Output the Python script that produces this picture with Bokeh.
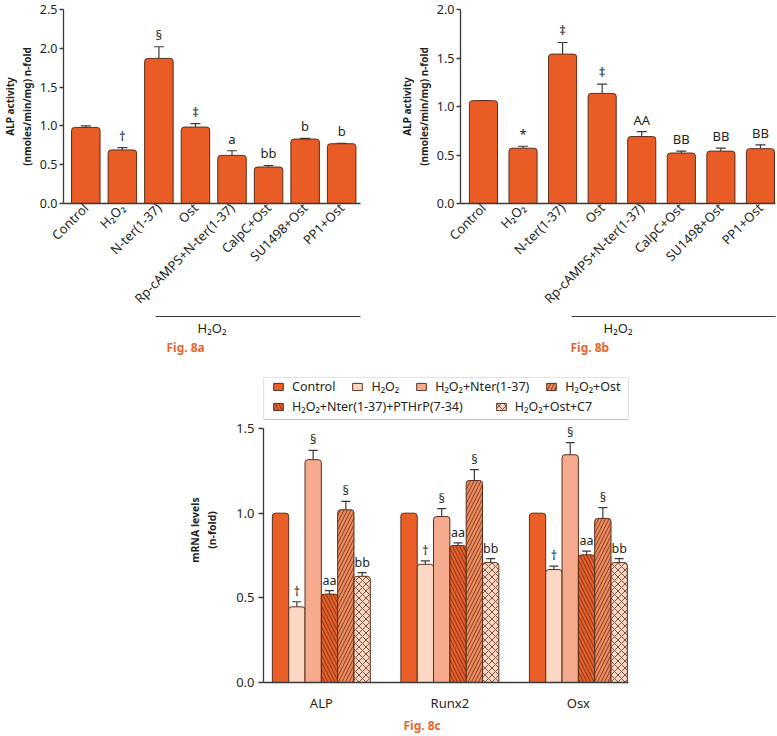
import math
from bokeh.plotting import figure
from bokeh.models import (ColumnDataSource, Range1d, LinearAxis, FixedTicker, Whisker, TeeHead,
                          Title, Legend, LegendItem, BoxAnnotation, Spacer, NumeralTickFormatter)
from bokeh.layouts import column, row
from bokeh.embed import file_html
from bokeh.resources import INLINE
from bokeh.core.properties import value

FONT = "Noto Sans"
TXT = "#231f20"
AX = "#3a3a3a"
EDGE = "#5a2e1c"
BAR = "#e95c26"
FIGC = "#e8662e"

# ---------------- data: Fig. 8a ----------------
a_groups = ["Control", "H₂O₂", "N-ter(1-37)", "Ost", "Rp-cAMPS+N-ter(1-37)",
            "CalpC+Ost", "SU1498+Ost", "PP1+Ost"]
a_values = [0.98, 0.69, 1.87, 0.985, 0.62, 0.47, 0.83, 0.77]
a_errors = [0.02, 0.03, 0.15, 0.045, 0.06, 0.02, 0.01, 0.005]
a_marks = ["", "†", "§", "‡", "a", "bb", "b", "b"]
a_yticks = [0.0, 0.5, 1.0, 1.5, 2.0, 2.5]

# ---------------- data: Fig. 8b ----------------
b_groups = ["Control", "H₂O₂", "N-ter(1-37)", "Ost", "Rp-cAMPS+N-ter(1-37)",
            "CalpC+Ost", "SU1498+Ost", "PP1+Ost"]
b_values = [1.06, 0.57, 1.54, 1.135, 0.69, 0.52, 0.54, 0.565]
b_errors = [0.0, 0.02, 0.12, 0.095, 0.05, 0.02, 0.03, 0.04]
b_marks = ["", "*", "‡", "‡", "AA", "BB", "BB", "BB"]
b_yticks = [0.0, 0.5, 1.0, 1.5, 2.0]

bracket_label = "H₂O₂"

# ---------------- data: Fig. 8c ----------------
c_genes = ["ALP", "Runx2", "Osx"]
c_series = ["Control", "H₂O₂", "H₂O₂+Nter(1-37)", "H₂O₂+Nter(1-37)+PTHrP(7-34)",
            "H₂O₂+Ost", "H₂O₂+Ost+C7"]
c_control = [1.0, 1.0, 1.0]
c_h2o2 = [0.447, 0.698, 0.667]
c_nter = [1.316, 0.98, 1.345]
c_pthrp = [0.522, 0.809, 0.754]
c_ost = [1.02, 1.193, 0.969]
c_c7 = [0.627, 0.708, 0.708]
c_control_err = [0.0, 0.0, 0.0]
c_h2o2_err = [0.03, 0.02, 0.02]
c_nter_err = [0.055, 0.047, 0.072]
c_pthrp_err = [0.02, 0.016, 0.022]
c_ost_err = [0.05, 0.064, 0.064]
c_c7_err = [0.022, 0.023, 0.023]
c_marks = ["", "†", "§", "aa", "§", "bb"]
c_yticks = [0.0, 0.5, 1.0, 1.5]


def style_axes(p):
    p.xgrid.visible = False
    p.ygrid.visible = False
    p.outline_line_color = None
    for ax in p.axis:
        ax.axis_line_color = AX
        ax.axis_line_width = 1.3
        ax.major_tick_line_color = AX
        ax.major_tick_line_width = 1.3
        ax.minor_tick_line_color = None
        ax.major_label_text_font = FONT
        ax.major_label_text_color = TXT
        ax.axis_label_text_font = FONT
        ax.axis_label_text_color = TXT


def bar_panel(groups, values, errors, marks, yticks, x_start, x_end, bar_w,
              bracket_start, fig_text, fig_offset, width, height, b_left, b_right):
    n = len(groups)
    src = ColumnDataSource(dict(
        x=list(range(n)), top=values,
        upper=[v + e for v, e in zip(values, errors)], mark=marks))
    p = figure(width=width, height=height, x_range=Range1d(x_start, x_end),
               y_range=Range1d(0, yticks[-1]), output_backend="svg",
               toolbar_location=None, min_border_left=b_left, min_border_right=b_right,
               min_border_top=9, min_border_bottom=height - 203)
    p.vbar(x="x", top="top", width=bar_w, source=src, fill_color=BAR,
           line_color=EDGE, line_width=1, border_radius=(3, 3, 0, 0))
    p.add_layout(Whisker(source=src, base="x", lower="top", upper="upper",
                         dimension="height", line_color=AX, line_width=1.2,
                         lower_head=None,
                         upper_head=TeeHead(size=10, line_color=AX, line_width=1.2)))
    p.text(x="x", y="upper", text="mark", source=src, text_align="center",
           text_baseline="bottom", y_offset=-3, text_font=value(FONT),
           text_font_size="13px", text_color=TXT)
    p.xaxis.ticker = FixedTicker(ticks=list(range(n)))
    p.xaxis.major_label_overrides = {i: g for i, g in enumerate(groups)}
    p.xaxis.major_label_orientation = math.pi / 4
    p.xaxis.major_tick_out = 0
    p.xaxis.major_tick_in = 0
    p.xaxis.major_label_standoff = 2
    p.xaxis.major_label_text_font_size = "13px"
    p.yaxis.ticker = FixedTicker(ticks=yticks)
    p.yaxis.formatter = NumeralTickFormatter(format="0.0")
    p.yaxis.major_tick_out = 4
    p.yaxis.major_tick_in = 0
    p.yaxis.major_label_standoff = 2
    p.yaxis.major_label_text_font_size = "12.5px"
    p.yaxis.axis_label = "ALP activity\n(nmoles/min/mg) n-fold"
    p.yaxis.axis_label_text_font_size = "10px"
    p.yaxis.axis_label_text_font_style = "bold"
    p.yaxis.axis_label_standoff = 3
    br = LinearAxis(bounds=(bracket_start, x_end), ticker=FixedTicker(ticks=[]),
                    axis_label=bracket_label)
    p.add_layout(br, "below")
    style_axes(p)
    br.major_tick_out = 0
    br.major_tick_in = 0
    br.axis_line_width = 1.1
    br.axis_label_text_font_size = "13px"
    br.axis_label_text_font_style = "normal"
    br.axis_label_standoff = 2
    p.add_layout(Title(text=fig_text, align="left", offset=fig_offset,
                       text_color=FIGC, text_font=FONT, text_font_size="12px",
                       text_font_style="bold", standoff=-5), "below")
    return p


TOP_H = 356
fa = bar_panel(a_groups, a_values, a_errors, a_marks, a_yticks, -0.61, 7.515, 0.78,
               1.9, "Fig. 8a", 103, 391, TOP_H, 60, 31)
fb = bar_panel(b_groups, b_values, b_errors, b_marks, b_yticks, -0.58, 7.38, 0.71,
               2.22, "Fig. 8b", 110, 386, TOP_H, 69, 2)

# ---------------- Fig. 8c ----------------
c_vals = [c_control, c_h2o2, c_nter, c_pthrp, c_ost, c_c7]
c_errs = [c_control_err, c_h2o2_err, c_nter_err, c_pthrp_err, c_ost_err, c_c7_err]
c_fill = ["#ea5e27", "#fbd7c4", "#f6aa8e", "#ea5e27", "#f08a5c", "#fbd7c4"]
c_hatch = [None, None, None, "left_diagonal_line", "right_diagonal_line", "diagonal_cross"]

FRAME_H = 305          # px height of the 8c plotting frame
LEG_PX = 51            # px between the 1.5 tick and the frame top (legend area)
LEG_GAP_PX = 9         # px between the 1.5 tick and the legend box bottom
scale = (FRAME_H - LEG_PX) / c_yticks[-1]
y_end = c_yticks[-1] + LEG_PX / scale
leg_bottom = c_yticks[-1] + LEG_GAP_PX / scale

fc = figure(frame_width=365, frame_height=FRAME_H, x_range=Range1d(-0.45, 2.39),
            y_range=Range1d(0, y_end), output_backend="svg", toolbar_location=None,
            min_border_left=83, min_border_right=12, min_border_top=21,
            min_border_bottom=10)
bw = 0.127
renderers = []
for k, (vals, errs) in enumerate(zip(c_vals, c_errs)):
    off = (k - 2.5) * bw
    src = ColumnDataSource(dict(
        x=[i + off for i in range(len(c_genes))], top=vals,
        upper=[v + e for v, e in zip(vals, errs)],
        mark=[c_marks[k]] * len(c_genes)))
    kw = {}
    if c_hatch[k]:
        kw = dict(hatch_pattern=c_hatch[k], hatch_color=EDGE, hatch_scale=7,
                  hatch_weight=0.8)
    r = fc.vbar(x="x", top="top", width=bw, source=src, fill_color=c_fill[k],
                line_color=EDGE, line_width=1, border_radius=(3, 3, 0, 0), **kw)
    renderers.append(r)
    if any(e > 0 for e in errs):
        fc.add_layout(Whisker(source=src, base="x", lower="top", upper="upper",
                              dimension="height", line_color=AX, line_width=1.2,
                              lower_head=None,
                              upper_head=TeeHead(size=9, line_color=AX, line_width=1.2)))
    fc.text(x="x", y="upper", text="mark", source=src, text_align="center",
            text_baseline="bottom", y_offset=-2, text_font=value(FONT),
            text_font_size="12.5px", text_color=TXT)

fc.xaxis.ticker = FixedTicker(ticks=list(range(len(c_genes))))
fc.xaxis.major_label_overrides = {i: g for i, g in enumerate(c_genes)}
fc.xaxis.major_tick_out = 0
fc.xaxis.major_tick_in = 0
fc.xaxis.major_label_standoff = 11
fc.xaxis.major_label_text_font_size = "13px"
fc.yaxis.ticker = FixedTicker(ticks=c_yticks)
fc.yaxis.formatter = NumeralTickFormatter(format="0.0")
fc.yaxis.bounds = (c_yticks[0], c_yticks[-1])
fc.yaxis.major_tick_out = 5
fc.yaxis.major_tick_in = 0
fc.yaxis.major_label_standoff = 4
fc.yaxis.major_label_text_font_size = "13px"
fc.yaxis.axis_label = "mRNA levels\n(n-fold)"
fc.yaxis.axis_label_text_font_size = "10.5px"
fc.yaxis.axis_label_text_font_style = "bold"
fc.yaxis.axis_label_standoff = 14
style_axes(fc)

fc.add_layout(BoxAnnotation(bottom=leg_bottom, fill_alpha=0, line_color=AX,
                            line_width=1.2))
leg_common = dict(orientation="horizontal", padding=0, margin=0,
                  glyph_width=12, glyph_height=9, label_standoff=8, label_height=14,
                  label_text_font=FONT, label_text_font_size="12.5px",
                  label_text_color=TXT, border_line_alpha=0, background_fill_alpha=0)
row1 = [0, 1, 2, 4]
row2 = [3, 5]
leg1 = Legend(items=[LegendItem(label=c_series[k], renderers=[renderers[k]]) for k in row1],
              location=(9, FRAME_H - 11 - 7), spacing=16, **leg_common)
leg2 = Legend(items=[LegendItem(label=c_series[k], renderers=[renderers[k]]) for k in row2],
              location=(9, FRAME_H - 31 - 7), spacing=32, **leg_common)
fc.add_layout(leg1)
fc.add_layout(leg2)
fc.add_layout(Title(text="Fig. 8c", align="left", offset=140, text_color=FIGC,
                    text_font=FONT, text_font_size="12px", text_font_style="bold",
                    standoff=0), "below")

layout = column(row(fa, fb), row(Spacer(width=180, height=10), fc))
open("out.html", "w").write(file_html(layout, INLINE))
